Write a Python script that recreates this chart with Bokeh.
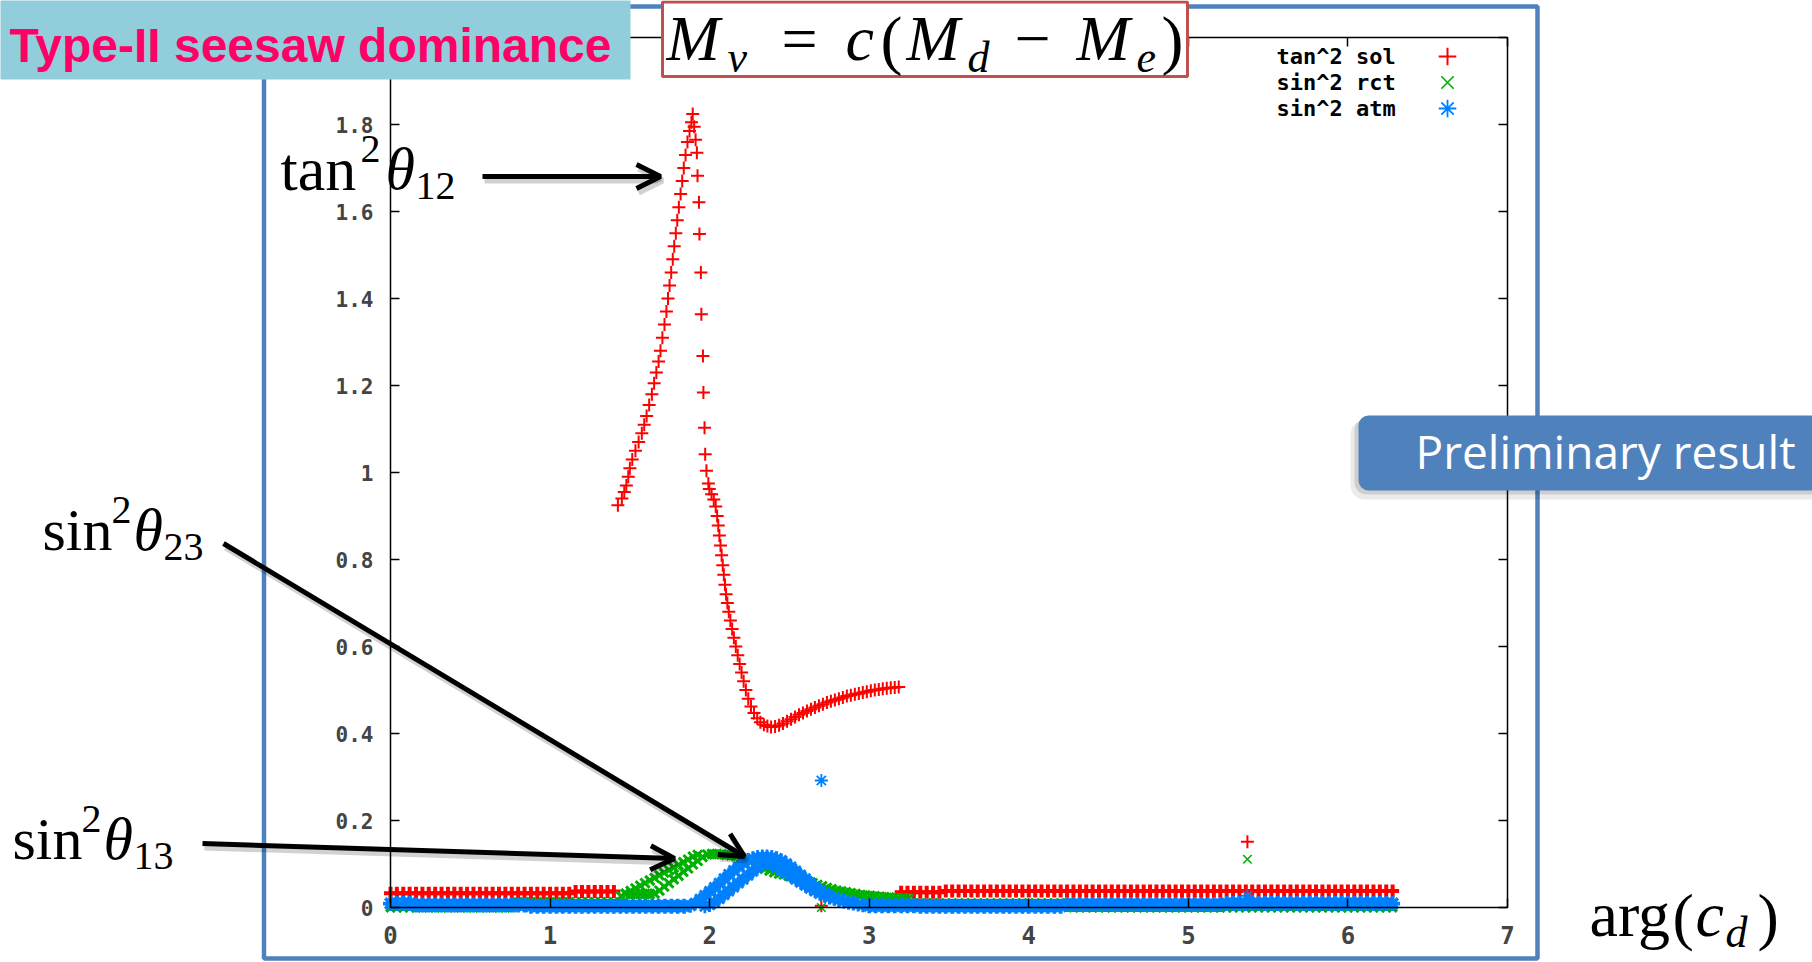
from bokeh.plotting import figure
from bokeh.models import (Range1d, FixedTicker, LinearAxis, BoxAnnotation, Label, Arrow,
                          OpenHead, Legend, LegendItem, ColumnDataSource)
from bokeh.embed import file_html
from bokeh.resources import INLINE

# ------------------------------------------------------------------ data
# scan parameter arg(c_d); flat parts of the scan are listed on a 0.04 grid
STEP = 0.04

# tan^2 sol (red "+")
red_band1_start = 0.00
red_band1_y = [
    0.033, 0.033, 0.033, 0.033, 0.033, 0.033, 0.033, 0.033, 0.033, 0.033,
    0.033, 0.033, 0.033, 0.033, 0.033, 0.033, 0.033, 0.033, 0.033, 0.033,
    0.033, 0.033, 0.033, 0.033, 0.033, 0.033, 0.033, 0.033, 0.033, 0.037,
    0.037, 0.037, 0.037, 0.037, 0.037, 0.037]
red_band2_start = 3.20
red_band2_y = [
    0.035, 0.035, 0.035, 0.035, 0.035, 0.035, 0.035, 0.038, 0.038, 0.038,
    0.038, 0.038, 0.038, 0.038, 0.038, 0.038, 0.038, 0.038, 0.038, 0.038,
    0.038, 0.038, 0.038, 0.038, 0.038, 0.038, 0.038, 0.038, 0.038, 0.038,
    0.038, 0.038, 0.038, 0.038, 0.038, 0.038, 0.038, 0.038, 0.038, 0.038,
    0.038, 0.038, 0.038, 0.038, 0.038, 0.038, 0.038, 0.038, 0.038, 0.038,
    0.038, 0.038, 0.038, 0.038, 0.038, 0.038, 0.038, 0.038, 0.038, 0.038,
    0.038, 0.038, 0.038, 0.038, 0.038, 0.038, 0.038, 0.038, 0.038, 0.038,
    0.038, 0.038, 0.038, 0.038, 0.038, 0.038, 0.038, 0.038]
red_curve_x = [
    1.425, 1.450, 1.465, 1.478, 1.490, 1.500, 1.515, 1.535, 1.555, 1.575,
    1.590, 1.605, 1.621, 1.638, 1.652, 1.666, 1.680, 1.692, 1.704, 1.717,
    1.729, 1.739, 1.749, 1.759, 1.769, 1.778, 1.788, 1.797, 1.807, 1.818,
    1.828, 1.838, 1.849, 1.861, 1.874, 1.886, 1.894,
    1.903, 1.912, 1.920, 1.924, 1.933, 1.936, 1.945, 1.948, 1.958, 1.961,
    1.968, 1.972, 1.980, 1.992,
    1.998, 2.012, 2.026, 2.038, 2.047, 2.054, 2.061, 2.068, 2.075, 2.082,
    2.089, 2.096, 2.103, 2.111, 2.120, 2.130, 2.141, 2.152, 2.164, 2.176,
    2.188, 2.200, 2.213, 2.227, 2.242, 2.259, 2.278, 2.298, 2.318, 2.340,
    2.362, 2.385,
    2.410, 2.435, 2.460, 2.485, 2.510, 2.535, 2.560, 2.585, 2.610, 2.635,
    2.660, 2.685, 2.710, 2.735, 2.760, 2.785, 2.810, 2.835, 2.860, 2.885,
    2.910, 2.935, 2.960, 2.985, 3.010, 3.035, 3.060, 3.085, 3.110, 3.135,
    3.160, 3.185]
red_curve_y = [
    0.925, 0.940, 0.955, 0.970, 0.990, 1.010, 1.030, 1.050, 1.070, 1.090,
    1.110, 1.130, 1.155, 1.180, 1.205, 1.230, 1.255, 1.280, 1.310, 1.340,
    1.370, 1.400, 1.430, 1.460, 1.490, 1.520, 1.550, 1.580, 1.610, 1.640,
    1.670, 1.700, 1.730, 1.760, 1.785, 1.805, 1.824,
    1.795, 1.765, 1.735, 1.682, 1.621, 1.548, 1.460, 1.364, 1.268, 1.184,
    1.103, 1.042, 1.004, 0.975,
    0.962, 0.950, 0.938, 0.922, 0.900, 0.878, 0.855, 0.832, 0.810, 0.787,
    0.765, 0.742, 0.720, 0.700, 0.680, 0.660, 0.640, 0.620, 0.600, 0.580,
    0.560, 0.540, 0.520, 0.500, 0.480, 0.462, 0.447, 0.435, 0.426, 0.420,
    0.417, 0.415,
    0.416, 0.419, 0.423, 0.428, 0.433, 0.438, 0.443, 0.447, 0.452, 0.456,
    0.460, 0.464, 0.467, 0.471, 0.474, 0.477, 0.480, 0.483, 0.486, 0.488,
    0.490, 0.492, 0.494, 0.496, 0.498, 0.500, 0.501, 0.503, 0.504, 0.505,
    0.506, 0.507]
red_out_x = [2.70, 5.37]
red_out_y = [0.004, 0.151]

# sin^2 rct (green "x")
green_band1_start = 0.00
green_band1_y = [
    0.000, 0.000, 0.000, 0.000, 0.000, 0.000, 0.000, 0.000, 0.000, 0.000,
    0.000, 0.000, 0.000, 0.000, 0.000, 0.000, 0.000, 0.000, 0.000, 0.000,
    0.012, 0.012, 0.012, 0.012, 0.012, 0.012, 0.012, 0.012, 0.012, 0.012,
    0.012, 0.012, 0.012, 0.012, 0.012, 0.012]
green_row1_x = [1.445, 1.475, 1.505, 1.535, 1.565, 1.595, 1.625, 1.655, 1.685,
                1.715, 1.745, 1.775, 1.805, 1.835, 1.865, 1.895, 1.925]
green_row1_y = [0.026, 0.032, 0.038, 0.044, 0.050, 0.056, 0.062, 0.068, 0.074,
                0.080, 0.086, 0.092, 0.098, 0.104, 0.110, 0.117, 0.121]
green_row2_x = [1.475, 1.505, 1.535, 1.565, 1.595, 1.625, 1.655, 1.685, 1.715,
                1.745, 1.775, 1.805, 1.835, 1.865, 1.895, 1.925, 1.955]
green_row2_y = [0.031, 0.031, 0.031, 0.031, 0.031, 0.031, 0.032, 0.039, 0.048,
                0.056, 0.065, 0.073, 0.082, 0.090, 0.099, 0.107, 0.116]
green_top_x = [1.985, 2.015, 2.045, 2.075, 2.105, 2.135, 2.165, 2.195, 2.225,
               2.255, 2.285, 2.315, 2.345, 2.375, 2.405, 2.435,
               2.465, 2.495, 2.525, 2.555, 2.585, 2.615, 2.645, 2.675, 2.705,
               2.735, 2.765, 2.795, 2.825, 2.855, 2.885, 2.915, 2.945, 2.975,
               3.005, 3.035, 3.065, 3.095, 3.125, 3.155, 3.185, 3.215, 3.245]
green_top_y = [0.122, 0.123, 0.123, 0.122, 0.121, 0.120, 0.118, 0.115, 0.110,
               0.104, 0.098, 0.093, 0.089, 0.085, 0.081, 0.078,
               0.076, 0.073, 0.070, 0.067, 0.064, 0.060, 0.056, 0.052, 0.049,
               0.045, 0.042, 0.039, 0.037, 0.035, 0.033, 0.031, 0.029, 0.028,
               0.027, 0.026, 0.025, 0.024, 0.023, 0.022, 0.021, 0.021, 0.020]
green_band2_start = 3.28
green_band2_y = [
    0.010, 0.010, 0.010, 0.010, 0.010, 0.010, 0.010, 0.010, 0.010, 0.010,
    0.010, 0.010, 0.010, 0.010, 0.010, 0.010, 0.010, 0.010, 0.010, 0.010,
    0.010, 0.010, 0.010, 0.010, 0.010, 0.000, 0.000, 0.000, 0.000, 0.000,
    0.000, 0.000, 0.000, 0.000, 0.000, 0.000, 0.000, 0.000, 0.000, 0.000,
    0.000, 0.000, 0.000, 0.000, 0.000, 0.000, 0.000, 0.000, 0.000, 0.000,
    0.000, 0.000, 0.000, 0.000, 0.000, 0.000, 0.000, 0.000, 0.000, 0.000,
    0.000, 0.000, 0.000, 0.000, 0.000, 0.000, 0.000, 0.000, 0.000, 0.000,
    0.000, 0.000, 0.000, 0.000, 0.000, 0.000]
green_out_x = [2.70, 5.37]
green_out_y = [0.000, 0.111]

# sin^2 atm (blue "*")
blue_band1_start = 0.00
blue_band1_y = [
    0.009, 0.009, 0.009, 0.009, 0.006, 0.006, 0.006, 0.006, 0.006, 0.006,
    0.006, 0.006, 0.006, 0.006, 0.006, 0.006, 0.006, 0.006, 0.006, 0.006,
    0.006, 0.006, 0.003, 0.003, 0.003, 0.003, 0.003, 0.003, 0.003, 0.003,
    0.003, 0.003, 0.003, 0.003, 0.003, 0.003, 0.003, 0.003, 0.003, 0.003,
    0.003, 0.003, 0.003, 0.003, 0.003, 0.003, 0.003]
blue_rowA_x = [1.88, 1.91, 1.94, 1.97, 2.00, 2.03, 2.06, 2.09, 2.12, 2.15,
               2.18, 2.21, 2.24, 2.27, 2.30, 2.33, 2.36, 2.39, 2.42, 2.45,
               2.48, 2.51, 2.54, 2.57, 2.60, 2.63, 2.66, 2.69, 2.72, 2.75,
               2.78, 2.81, 2.84, 2.87, 2.90]
blue_rowA_y = [0.004, 0.010, 0.019, 0.028, 0.037, 0.046, 0.056, 0.066, 0.076, 0.085,
               0.094, 0.102, 0.109, 0.113, 0.116, 0.117, 0.117, 0.116, 0.113, 0.108,
               0.101, 0.093, 0.084, 0.075, 0.066, 0.057, 0.048, 0.040, 0.033, 0.027,
               0.022, 0.018, 0.015, 0.013, 0.011]
blue_rowB_x = [1.97, 2.00, 2.03, 2.06, 2.09, 2.12, 2.15, 2.18, 2.21, 2.24,
               2.27, 2.30, 2.33, 2.36, 2.39, 2.42, 2.45, 2.48, 2.51, 2.54,
               2.57, 2.60, 2.63, 2.66, 2.69, 2.72, 2.75, 2.78, 2.81, 2.84,
               2.87, 2.90, 2.93, 2.96]
blue_rowB_y = [0.003, 0.006, 0.012, 0.020, 0.029, 0.038, 0.047, 0.056, 0.065, 0.074,
               0.083, 0.092, 0.099, 0.103, 0.098, 0.092, 0.086, 0.079, 0.072, 0.065,
               0.058, 0.051, 0.044, 0.038, 0.032, 0.027, 0.023, 0.020, 0.017, 0.014,
               0.011, 0.009, 0.007, 0.005]
blue_band2_start = 3.00
blue_band2_y = [
    0.004, 0.004, 0.004, 0.004, 0.004, 0.004, 0.004, 0.004, 0.003, 0.003,
    0.003, 0.003, 0.003, 0.003, 0.003, 0.003, 0.003, 0.003, 0.003, 0.003,
    0.003, 0.003, 0.003, 0.003, 0.003, 0.003, 0.003, 0.003, 0.003, 0.003,
    0.003, 0.007, 0.007, 0.007, 0.007, 0.007, 0.007, 0.007, 0.007, 0.007,
    0.007, 0.007, 0.007, 0.007, 0.007, 0.007, 0.007, 0.007, 0.007, 0.007,
    0.007, 0.007, 0.007, 0.007, 0.007, 0.007, 0.009, 0.009, 0.009, 0.009,
    0.009, 0.009, 0.009, 0.009, 0.009, 0.009, 0.009, 0.009, 0.009, 0.009,
    0.009, 0.009, 0.009, 0.009, 0.009, 0.009, 0.009, 0.009, 0.009, 0.009,
    0.009, 0.009, 0.009]
blue_out_x = [2.70, 5.37]
blue_out_y = [0.292, 0.027]

x_ticks = [0, 1, 2, 3, 4, 5, 6, 7]
y_ticks = [0, 0.2, 0.4, 0.6, 0.8, 1.0, 1.2, 1.4, 1.6, 1.8, 2.0]
# the label of the top tick (2) lies under the title box in the reference
y_tick_labels = ["0", "0.2", "0.4", "0.6", "0.8", "1", "1.2", "1.4", "1.6", "1.8", ""]
legend_labels = ["tan^2 sol", "sin^2 rct", "sin^2 atm"]

# ------------------------------------------------------------------ geometry
# the Bokeh frame fills the whole canvas; the gnuplot box (0..7, 0..2) sits inside it
W, H = 1812, 962
GX0, GX1, GY0, GY1 = 390.0, 1507.0, 907.0, 37.0   # canvas px of x=0, x=7, y=0, y=2
X_LO, X_HI, Y_LO, Y_HI = 0.0, 7.0, 0.0, 2.0


def dx(px):
    return X_LO + (px - GX0) * (X_HI - X_LO) / (GX1 - GX0)


def dy(py):
    return Y_LO + (GY0 - py) * (Y_HI - Y_LO) / (GY0 - GY1)


def scan(start, ys):
    return [round(start + STEP * i, 2) for i in range(len(ys))], ys


def pairs(xs, ys):
    n = min(len(xs), len(ys))
    return list(xs[:n]), list(ys[:n])


RED, GREEN, BLUE = "#FF0000", "#00B000", "#0080FF"
MONO = "DejaVu Sans Mono"
SERIF = "Liberation Serif"

p = figure(width=W, height=H, x_range=Range1d(dx(0), dx(W)), y_range=Range1d(dy(H), dy(0)),
           output_backend="svg", toolbar_location=None,
           min_border_left=0, min_border_right=0, min_border_top=0, min_border_bottom=0)
p.grid.visible = False
p.outline_line_color = None
p.background_fill_color = "white"
p.border_fill_color = "white"

# ------------------------------------------------------------------ axes (pinned to the gnuplot box)
xa = p.xaxis[0]
xa.fixed_location = Y_LO
xa.ticker = FixedTicker(ticks=x_ticks)
xa.axis_line_color = None
xa.major_tick_in = 9
xa.major_tick_out = 0
xa.major_tick_line_width = 1.5
xa.minor_tick_line_color = None
xa.major_label_text_font = MONO
xa.major_label_text_font_style = "bold"
xa.major_label_text_font_size = "24px"
xa.major_label_standoff = 18

ya = p.yaxis[0]
ya.fixed_location = X_LO
ya.ticker = FixedTicker(ticks=y_ticks)
ya.major_label_overrides = {t: s for t, s in zip(y_ticks, y_tick_labels)}
ya.axis_line_color = None
ya.major_tick_in = 9
ya.major_tick_out = 0
ya.major_tick_line_width = 1.5
ya.minor_tick_line_color = None
ya.major_label_text_font = MONO
ya.major_label_text_font_style = "bold"
ya.major_label_text_font_size = "21px"
ya.major_label_standoff = 17

top_ax = LinearAxis(ticker=FixedTicker(ticks=x_ticks), fixed_location=Y_HI, axis_line_color=None,
                    major_tick_in=9, major_tick_out=0, major_tick_line_width=1.5,
                    minor_tick_line_color=None, major_label_text_alpha=0,
                    major_label_text_font_size="1px", major_label_standoff=0)
p.add_layout(top_ax, "above")
right_ax = LinearAxis(ticker=FixedTicker(ticks=y_ticks), fixed_location=X_HI, axis_line_color=None,
                      major_tick_in=9, major_tick_out=0, major_tick_line_width=1.5,
                      minor_tick_line_color=None, major_label_text_alpha=0,
                      major_label_text_font_size="1px", major_label_standoff=0)
p.add_layout(right_ax, "right")

# ------------------------------------------------------------------ data marks


def points(xy_list, marker, color, size, lw):
    xs, ys = [], []
    for a, b in xy_list:
        xs += a
        ys += b
    src = ColumnDataSource(dict(x=xs, y=ys))
    return p.scatter("x", "y", source=src, marker=marker, size=size,
                     line_color=color, line_width=lw, fill_color=None)


points([scan(red_band1_start, red_band1_y), scan(red_band2_start, red_band2_y)],
       "cross", RED, 13, 4.0)
points([pairs(red_curve_x, red_curve_y)], "cross", RED, 13, 2.0)
r_red = points([pairs(red_out_x, red_out_y)], "cross", RED, 13, 2.0)

points([scan(green_band1_start, green_band1_y), scan(green_band2_start, green_band2_y)],
       "x", GREEN, 12, 3.4)
points([pairs(green_row1_x, green_row1_y), pairs(green_row2_x, green_row2_y),
        pairs(green_top_x, green_top_y)], "x", GREEN, 13, 3.0)
r_green = points([pairs(green_out_x, green_out_y)], "x", GREEN, 12, 1.6)

points([scan(blue_band1_start, blue_band1_y), scan(blue_band2_start, blue_band2_y)],
       "asterisk", BLUE, 15, 3.6)
points([pairs(blue_rowA_x, blue_rowA_y), pairs(blue_rowB_x, blue_rowB_y)],
       "asterisk", BLUE, 14, 2.8)
r_blue = points([pairs(blue_out_x, blue_out_y)], "asterisk", BLUE, 13, 1.8)

# ------------------------------------------------------------------ gnuplot box + key
p.add_layout(BoxAnnotation(left=X_LO, right=X_HI, bottom=Y_LO, top=Y_HI, fill_color=None,
                           line_color="black", line_alpha=1, line_width=1.5))

# vertical offset of a text's middle above its baseline, as a fraction of its size
MID = {SERIF: 0.37, "Liberation Sans": 0.31, "Open Sans": 0.37, MONO: 0.35}


def txt(s, px, py, size, font=SERIF, style="normal", color="black", align="left"):
    """py is the baseline position in canvas px."""
    p.add_layout(Label(x=dx(px), y=dy(py - MID[font] * size), text=s, text_font=font,
                       text_font_style=style, text_font_size=f"{size}px", text_color=color,
                       text_align=align, text_baseline="middle"))


GW = 44
for rend, lab, row_y in zip([r_red, r_green, r_blue], legend_labels, [55.5, 82.0, 107.5]):
    mx = 1447.0
    lg = Legend(items=[LegendItem(label=" ", renderers=[rend])],
                location=(mx - GW / 2, H - (row_y + GW / 2)),
                glyph_width=GW, glyph_height=GW, padding=0, margin=0, spacing=0,
                label_standoff=0, label_width=1, label_height=1,
                label_text_font_size="1px", border_line_color=None,
                background_fill_alpha=0)
    p.add_layout(lg)
    p.add_layout(Label(x=dx(1276), y=dy(row_y), text=lab, text_font=MONO,
                       text_font_style="bold", text_font_size="22px", text_color="black",
                       text_baseline="middle"))

# ------------------------------------------------------------------ slide decoration
SLIDE_BLUE = "#4F81BD"
p.add_layout(BoxAnnotation(left=dx(263.5), right=dx(1537), top=dy(6), bottom=dy(958),
                           fill_color=None, line_color=SLIDE_BLUE, line_alpha=1,
                           line_width=4.5))


def arrow(x0, y0, x1, y1):
    p.add_layout(Arrow(x_start=dx(x0 + 2), y_start=dy(y0 + 4), x_end=dx(x1 + 2), y_end=dy(y1 + 4),
                       line_width=6, line_color="black", line_alpha=0.18,
                       end=OpenHead(size=24, line_width=6, line_color="black", line_alpha=0.18)))
    p.add_layout(Arrow(x_start=dx(x0), y_start=dy(y0), x_end=dx(x1), y_end=dy(y1),
                       line_width=5, line_color="black",
                       end=OpenHead(size=24, line_width=5, line_color="black")))


arrow(482, 176, 660, 176)
arrow(223, 543, 744, 856)
arrow(202, 843, 674, 858)

# mixing-angle labels (baselines in canvas px)
txt("tan", 280, 191, 62)
txt("2", 360, 163, 40)
txt("θ", 385, 191, 60, style="italic")
txt("12", 415, 200, 40)

txt("sin", 42, 552, 60)
txt("2", 111, 524, 40)
txt("θ", 133, 552, 60, style="italic")
txt("23", 163, 561, 40)

txt("sin", 12, 861, 60)
txt("2", 81, 833, 40)
txt("θ", 103, 861, 60, style="italic")
txt("13", 133, 870, 40)

# x-axis name
txt("arg", 1589, 938, 64)
txt("(", 1672, 940, 64)
txt("c", 1695, 938, 64, style="italic")
txt("d", 1725, 948, 44, style="italic")
txt(")", 1757, 940, 64)

# title box
p.add_layout(BoxAnnotation(left=dx(-5), right=dx(630), top=dy(-5), bottom=dy(79),
                           fill_color="#92CDDC", fill_alpha=1, line_color=None))
txt("Type-II seesaw dominance", 9, 60, 48, font="Liberation Sans", style="bold",
    color="#FF0066")

# formula box
p.add_layout(BoxAnnotation(left=dx(662), right=dx(1187), top=dy(1.5), bottom=dy(76),
                           fill_color="white", fill_alpha=1, line_color="#C0504D",
                           line_alpha=1, line_width=3))
txt("M", 666, 62, 64, style="italic")
txt("ν", 727, 73, 44, style="italic")
txt("=", 799, 62, 64, align="center")
txt("c", 845, 62, 64, style="italic")
txt("(", 880, 63, 66)
txt("M", 906, 62, 64, style="italic")
txt("d", 967, 73, 44, style="italic")
txt("−", 1032, 62, 64, align="center")
txt("M", 1076, 62, 64, style="italic")
txt("e", 1136, 73, 44, style="italic")
txt(")", 1161, 63, 66)

# "Preliminary result" banner
p.add_layout(BoxAnnotation(left=dx(1350), right=dx(1840), top=dy(420), bottom=dy(499),
                           fill_color="black", fill_alpha=0.08, line_color=None,
                           border_radius=14))
p.add_layout(BoxAnnotation(left=dx(1354), right=dx(1840), top=dy(418), bottom=dy(494),
                           fill_color="black", fill_alpha=0.12, line_color=None,
                           border_radius=12))
p.add_layout(BoxAnnotation(left=dx(1358), right=dx(1840), top=dy(415), bottom=dy(490),
                           fill_color="#4F81BD", fill_alpha=1, line_color=None,
                           border_radius=10))
txt("Preliminary result", 1415, 468, 46, font="Open Sans", color="white")

open("out.html", "w").write(file_html(p, INLINE))
